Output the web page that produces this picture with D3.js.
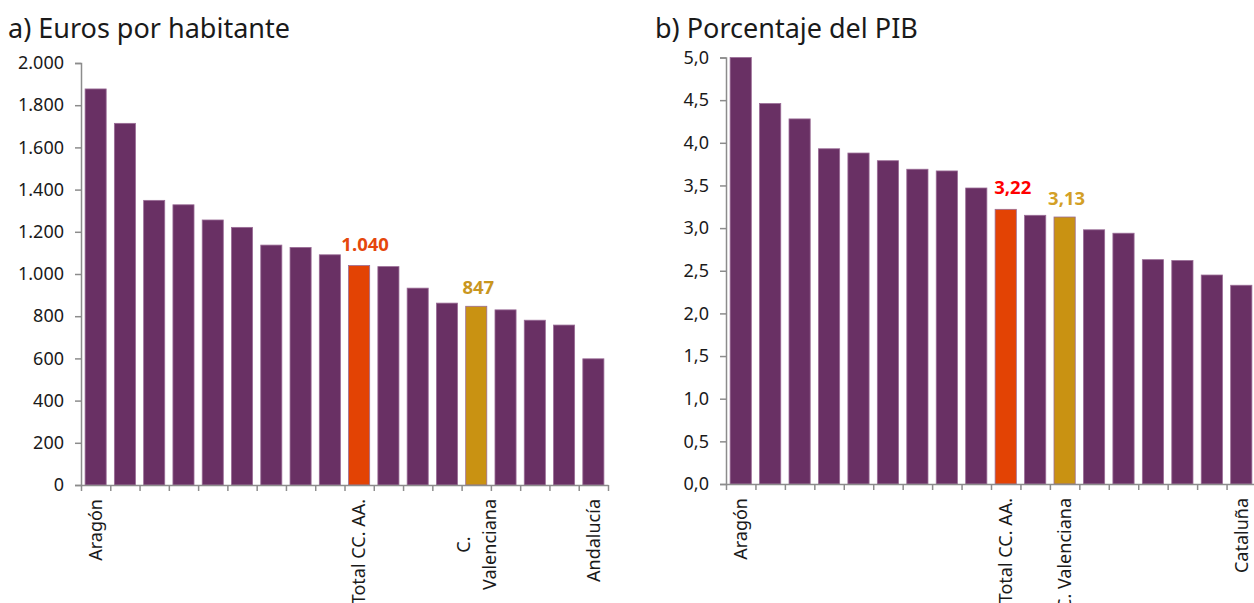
<!DOCTYPE html>
<html>
<head>
<meta charset="utf-8">
<script src="https://cdn.jsdelivr.net/npm/d3@7"></script>
<style>
  body { margin: 0; background: #fff; }
  svg text { font-family: "Noto Sans", "Open Sans", sans-serif; fill: #1a1a1a; }
</style>
</head>
<body>
<div id="chart"></div>
<script>
// ---- data ----
// a) euros per inhabitant, 18 regions sorted (only some have a visible name)
var labelsA = ["Aragón", "", "", "", "", "", "", "", "", "Total CC. AA.", "", "", "", "C.\nValenciana", "", "", "", "Andalucía"];
var valuesA = [1877, 1714, 1349, 1328, 1256, 1221, 1137, 1126, 1091, 1040, 1035, 933, 862, 847, 830, 781, 758, 598];
var ticksA = [0, 200, 400, 600, 800, 1000, 1200, 1400, 1600, 1800, 2000];

// b) percentage of GDP
var labelsB = ["Aragón", "", "", "", "", "", "", "", "", "Total CC. AA.", "", "C. Valenciana", "", "", "", "", "", "Cataluña"];
var valuesB = [5.00, 4.46, 4.28, 3.93, 3.88, 3.79, 3.69, 3.67, 3.47, 3.22, 3.15, 3.13, 2.98, 2.94, 2.63, 2.62, 2.45, 2.33];
var ticksB = [0, 0.5, 1, 1.5, 2, 2.5, 3, 3.5, 4, 4.5, 5];

// which bars get a highlight colour and a value label
var highlight = {"Total CC. AA.": "total", "C.\nValenciana": "cv", "C. Valenciana": "cv"};

var esLocale = d3.formatLocale({decimal: ",", thousands: ".", grouping: [3], currency: ["", " €"]});

var svg = d3.select("#chart").append("svg")
            .attr("width", 1254)
            .attr("height", 603);

function drawPanel(opt) {
  var n = opt.values.length;

  var x = d3.scaleBand()
            .domain(d3.range(n))
            .range([opt.left, opt.right])
            .paddingInner(0.28)
            .paddingOuter(0.14);

  // band borders, for the category ticks (excel style, between bars)
  var xb = d3.scaleLinear().domain([0, n]).range([opt.left, opt.right]);

  var y = d3.scaleLinear()
            .domain([0, opt.max])
            .range([opt.bottom, opt.top]);

  var g = svg.append("g");

  // title
  g.append("text")
   .attr("x", opt.titleX)
   .attr("y", 38)
   .style("font-size", "27px")
   .text(opt.title);

  // bars
  g.append("g")
   .selectAll("rect")
   .data(opt.values)
   .enter().append("rect")
     .attr("x", function(d, i) { return x(i); })
     .attr("y", function(d) { return y(d); })
     .attr("width", x.bandwidth())
     .attr("height", function(d) { return y(0) - y(d); })
     .attr("fill", function(d, i) {
        var h = highlight[opt.labels[i]];
        return h == "total" ? "#e34304" : h == "cv" ? "#c99212" : "#693064";
     })
     .attr("stroke", "#9a6c96")
     .attr("stroke-width", 0.8);

  // y axis
  var ya = g.append("g")
            .attr("transform", "translate(" + opt.left + ",0)")
            .call(d3.axisLeft(y).tickValues(opt.ticks).tickSize(6).tickFormat(esLocale.format(opt.tickFmt)));

  // x axis (ticks at band borders)
  var xa = g.append("g")
            .attr("transform", "translate(0," + opt.bottom + ")")
            .call(d3.axisBottom(xb).tickValues(d3.range(n + 1)).tickSize(6).tickSizeOuter(0).tickFormat(""));

  [ya, xa].forEach(function(a) {
    a.selectAll("path, line").attr("stroke", "#8c8c8c").attr("stroke-width", 1.5);
  });
  ya.selectAll("text").style("font-size", "18px").attr("fill", "#1a1a1a").attr("x", -17);

  // category labels, rotated, top aligned under the axis
  var top = opt.bottom + 14;
  opt.labels.forEach(function(lab, i) {
    if (!lab) return;
    var cx = x(i) + x.bandwidth() / 2;
    var lines = lab.split("\n");
    var t = g.append("text")
             .style("font-size", "18px")
             .attr("transform", "translate(" + cx + "," + top + ") rotate(-90)")
             .attr("text-anchor", lines.length > 1 ? "middle" : "end");
    lines.forEach(function(l, k) {
      t.append("tspan")
       .attr("x", 0)
       .attr("y", (k - (lines.length - 1) / 2) * 26)
       .attr("dy", "0.35em")
       .text(l);
    });
    if (lines.length > 1) {
      // centre the wrapped block under the longest line
      var w = d3.max(t.selectAll("tspan").nodes(), function(s) { return s.getComputedTextLength(); });
      t.selectAll("tspan").attr("x", -w / 2);
    }
  });

  // value labels over the highlighted bars
  opt.values.forEach(function(v, i) {
    var h = highlight[opt.labels[i]];
    if (!h) return;
    g.append("text")
     .attr("x", x(i) + x.bandwidth() / 2 + (h == "total" ? opt.totalDx : 2))
     .attr("y", y(v) - (h == "total" ? 15 : 12))
     .attr("text-anchor", "middle")
     .style("font-size", "18.5px")
     .style("font-weight", "bold")
     .style("fill", h == "total" ? opt.totalColor : opt.cvColor)
     .text(esLocale.format(opt.labelFmt)(v));
  });
}

drawPanel({
  title: "a) Euros por habitante", titleX: 8,
  labels: labelsA, values: valuesA, ticks: ticksA, max: 2000,
  left: 81, right: 608, top: 63, bottom: 485,
  tickFmt: ",.0f", labelFmt: ",.0f",
  totalColor: "#e5470c", cvColor: "#c9961e", totalDx: 6
});

drawPanel({
  title: "b) Porcentaje del PIB", titleX: 655,
  labels: labelsB, values: valuesB, ticks: ticksB, max: 5,
  left: 726, right: 1256, top: 57.5, bottom: 484,
  tickFmt: ".1f", labelFmt: ".2f",
  totalColor: "#ff0000", cvColor: "#d39f26", totalDx: 7
});
</script>
</body>
</html>
